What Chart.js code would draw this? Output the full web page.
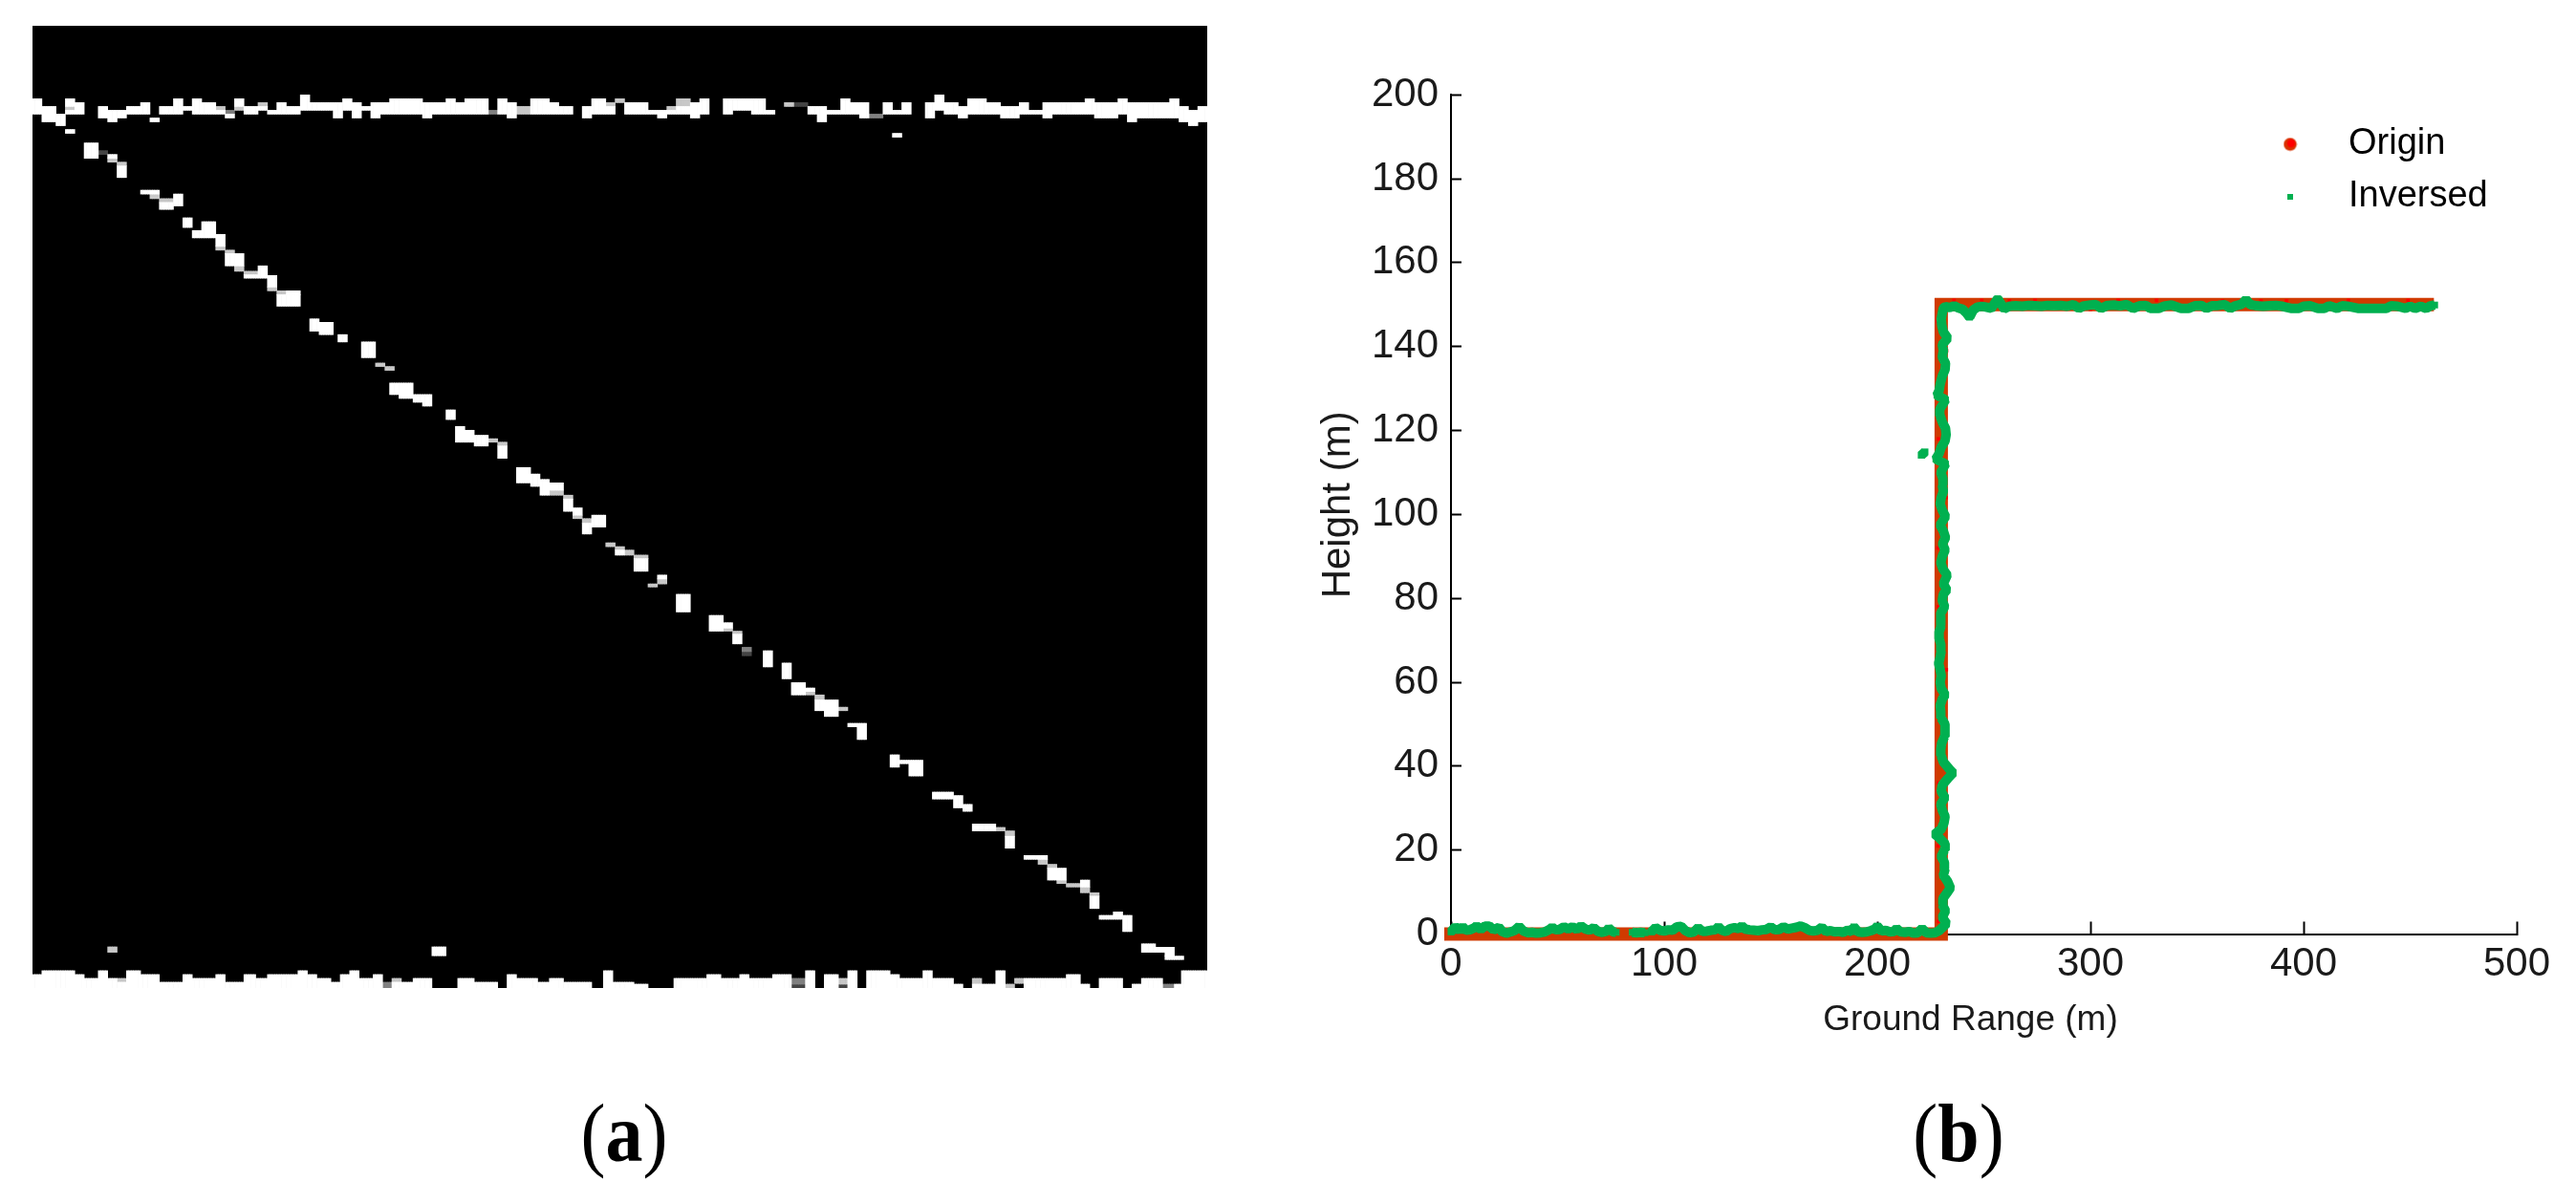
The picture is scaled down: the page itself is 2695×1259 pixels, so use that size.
<!DOCTYPE html>
<html>
<head>
<meta charset="utf-8">
<style>
html,body{margin:0;padding:0;background:#fff;width:2695px;height:1259px;overflow:hidden}
canvas{position:absolute;display:block}
.cap{position:absolute;font-family:"Liberation Serif",serif;font-size:78px;line-height:1;color:#000;transform:translate(-50%,-50%) scaleY(1.1);white-space:nowrap}
</style>
<script src="https://cdn.jsdelivr.net/npm/chart.js@4/dist/chart.umd.min.js"></script>
</head>
<body>
<canvas id="imgChart" width="1229" height="1007" style="left:34px;top:27px"></canvas>
<canvas id="plotChart" width="1355" height="1040" style="left:1340px;top:50px"></canvas>
<div class="cap" style="left:653px;top:1186px">(<b>a</b>)</div>
<div class="cap" style="left:2049px;top:1186px">(<b>b</b>)</div>
<script>
// ---------- Panel (a): binary image cells as [colStart, colEnd, rowTop, rowBottom] on a 250 x 250 grid ----------
const gridColumns = 250;
const gridRows = 250.5;

const topBandCells = [
[0,2,19,23],[2,5,21,25],[5,7,23,26],[7,9,19,21],[7,9,22,23],[9,11,20,23],[14,16,21,24],[16,18,22,25],[18,20,22,24],[20,23,21,23],[23,25,20,23],[25,27,24,25],
[27,30,21,23],[30,32,19,23],[32,34,21,22],[34,36,19,23],[36,39,20,23],[39,41,22,23],[41,43,23,24],[43,45,19,21],[45,48,21,23],[48,50,21,22],[50,52,22,23],[52,54,20,23],
[54,57,21,23],[57,59,18,22],[59,64,20,22],[64,66,20,24],[66,68,19,22],[68,70,20,24],[70,72,21,22],[72,74,20,24],[74,76,20,23],[76,83,19,23],[83,85,20,24],[85,88,20,23],
[88,90,19,23],[90,92,20,23],[92,97,19,23],[99,101,19,23],[101,103,20,24],[106,110,19,23],[110,112,20,23],[112,115,21,23],[117,119,21,24],[119,122,19,23],[122,124,21,23],
[126,131,20,23],[131,133,22,23],[133,135,22,24],[135,137,22,23],[137,140,21,23],[140,142,20,24],[142,144,19,23],[147,149,19,23],[149,153,19,22],[153,156,19,23],[156,158,22,23],
[165,167,21,23],[167,169,21,25],[169,172,22,23],[172,174,19,23],[174,176,20,23],[176,178,20,24],[181,183,20,23],[183,185,22,23],[185,187,20,23],[190,192,20,24],[192,194,18,22],
[194,197,20,23],[197,199,21,24],[199,203,19,23],[203,206,20,23],[206,210,21,24],[210,212,20,23],[212,215,22,23],[215,217,20,24],[217,224,20,23],[224,226,19,23],[226,231,20,24],
[231,233,19,23],[233,235,20,25],[235,242,20,24],[242,244,19,24],[244,246,21,25],[246,248,22,26],[248,250,21,25]
];
const diagonalCells = [
[7,9,27,28],[11,14,30.5,34.5],[16,18,33.5,34.5],[18,20,36.5,39.5],[23,27,42.8,43.8],[27,30,46,47.8],[30,32,43.8,46.9],[32,34,50,52.5],[34,36,53.3,55.2],[36,39,51,55.2],
[39,41,54.3,57.4],[41,45,59.3,62.5],[45,48,64.8,65.7],[48,50,62.5,65.7],[50,52,65,68],[52,57,70,73],[54,57,69,70],[59,61,76.3,79.5],[61,64,77.2,80.4],[65,67,80.4,82.3],[70,73,82.3,86.4],
[76,78,93,96],[78,81,93,97],[81,83,96,98],[83,85,96,99],[88,90,100,102.5],[90,92,104.3,108.4],[92,94,105.3,108.4],[94,97,106.6,109.4],[99,101,109.4,112.6],
[103,106,115,119],[106,108,116.7,119.9],[108,110,118.1,122.2],[110,113,119,120.9],[113,115,123.2,126.4],[115,117,125.5,127.4],[117,119,129.5,132.3],[119,122,127.4,130.5],
[124,126,136.5,137.8],[128,131,138.7,142],[133,135,143,144],[137,140,148,152.6],[144,147,153.5,157.6],[147,149,155.4,156.8],[149,151,158.4,160.9],[155.5,157.5,162.7,166.9],[159.5,161.5,165.9,170],
[161.5,164.5,171,174.2],[164.5,166.5,172.4,173.3],[166.5,168.5,175.5,178.3],[168.5,171.5,175.5,179.8],[173.5,175.5,181.6,182.5],[175.5,177.5,181.6,185.8],[182.5,184.5,189.8,193],[184.5,186.5,191.2,192.1],[186.5,189.5,191.2,195.3],
[191.5,196,199.5,201.3],[196,198,200.4,203.6],[198,200,202.7,204.5],[200,205,207.8,209.6],[207,209,211,214.1],[211,216,216,217],[216,218,219.3,222.4],[218,220,219.3,222.4],[223,225,222.4,224.2],[225,227,226.6,229.8],
[227,232,231.6,232.6],[230,232,230.7,231.6],[232,234,231.6,235.8],[236,239,239,241.2],[239,241,239.9,241.2],[241,243,239.9,242.2],[241,245,242.2,243.1]
];
const bottomBandCells = [
[0,2,247,250.5],[2,9,246,250.5],[9,11,247,250.5],[11,14,248,250.5],[14,16,246,250.5],[16,18,248,250.5],[18,20,249,250.5],[20,23,246,250.5],[23,27,247,250.5],[27,32,249,250.5],[32,34,247,250.5],[34,39,248,250.5],
[39,41,247,250.5],[41,45,249,250.5],[45,47.5,247,250.5],[47.5,50,248,250.5],[50,56.5,247,250.5],[56.5,58.5,246,250.5],[58.5,60.5,247,250.5],[60.5,63.5,248,250.5],[63.5,65.5,249,250.5],[65.5,67.5,247,250.5],[67.5,69.5,246,250.5],
[69.5,72.5,248,250.5],[72.5,74.5,247,250.5],[76.5,78.5,249,250.5],[78.5,81,249,250.5],[81,85,248,250.5],[90.5,94,248,250.5],[94,99,249,250.5],[101,103,247,250.5],[103,107.5,248,250.5],[107.5,110,249,250.5],[110,113,248,250.5],
[113,119,249,250.5],[121.5,123.5,246,250.5],[123.5,128,249,250.5],[128,131,249.5,250.5],[136.5,143.5,248,250.5],[143.5,146.5,247,250.5],[146.5,150.5,248,250.5],[150.5,152.5,247,250.5],[152.5,157.5,248,250.5],[157.5,161.5,247,250.5],
[164.5,166.5,246,250.5],[168.5,171.5,247,250.5],[173.5,175.5,246,250.5],[177.5,182.5,246,250.5],[182.5,184.5,247,250.5],[184.5,189.5,248,250.5],[189.5,191.5,246,250.5],[191.5,196,248,250.5],[196,198,249.5,250.5],
[200,202,249.5,250.5],[202,205,249.5,250.5],[205,207,246,250.5],[211,220,248,250.5],[220,223,247,250.5],[223,225,249.5,250.5],[227,232,248,250.5],[234,236,249.5,250.5],[236,240.5,248,250.5],[243,244.5,249.5,250.5],[244.5,250,246,250.5]
];
const speckCells = [[183,185,28,29],[85,88,239.8,242.1]];
const lightGreyCells = [
[7,9,21,22],[39,41,21,22],[43,45,21,22],[48,50,20,21],[103,106,21,23],[122,124,20,21],[124,126,19,20],[135,137,21,22],[137,140,19,21],[160,162,20,21],
[16,18,34.5,35.5],[18,20,35.5,36.5],[25,27,43.8,45],[27,30,45,46],[39,41,57.4,58.4],[41,43,58.4,59.3],[43,45,62.5,63.9],[45,48,63.9,64.8],[50,52,68,69],[52,54,69,70],[73,75,87.8,88.7],[75,77,88.7,89.7],
[97,99,107.5,108.4],[99,101,108.4,109.4],[110,113,120.9,122.2],[113,115,122.2,123.2],[115,117,127.4,128.3],[117,119,128.3,129.5],[122,124,134.6,135.6],[124,126,135.6,136.5],[126,128,136.5,137.8],[128,131,137.8,138.7],
[131,133,145.3,146.1],[133,135,144,145.3],[147,149,156.8,157.6],[149,151,157.6,158.4],[164.5,166.5,173.3,174.2],[166.5,168.5,174.2,175.5],[171.5,173.5,177.4,178.3],[205,207,208.7,209.6],[207,209,209.6,211],
[214,216,217,218.3],[216,218,218.3,219.3],[218,220,222.4,223.3],[220,223,223.3,224.2],[223,225,224.2,225.7],[225,227,225.7,226.6],
[18,20,248,249],[76.5,78.5,248,249],[171.5,173.5,248,249.5],[200,202,248,249.5],[207,209,249.5,250.5],[209,211,248,249.3],[16,18,239.8,241.2]
];
const midGreyCells = [[41,43,22,23],[97,99,22,23],[178,181,23,24],[151,153,161.8,162.9],[74.5,76.5,249,250.5],[161.5,164.5,248,249.5],[240.5,243,249.5,250.5]];
const darkGreyCells = [[162,165,20,21],[14,16,32.5,33.5],[151,153,162.9,164],[161.5,164.5,249.5,250.5],[171.5,173.5,249.5,250.5]];

// ---------- Panel (b): series ----------
const originX = [0,230,230,458];
const originY = [0,0,150,150];

const originSpeckX = [7,19,34,52,70,88,96,113,131,149,166,184,199,212,224,228.6,228.4,228.7,228.5,232.4,228.6,228.4,232.3,228.6,228.5,232.5,228.4,236,249,262,274,283,300,313,331,345,362,377,380,392,408,421,433,449];
const originSpeckY = [-1.2,-1.2,-1.3,-1.2,-1.2,-1.2,-1.2,-1.3,-1.2,-1.2,-1.2,-1.2,-1.3,-1.2,-1.2,3,21,36,52,63,78,92,104,118,131,139,146,151,151,150.9,151,149,148.9,151,151,148.9,150.9,149.1,150.9,150.9,149,151,149,151];

const inversedBottomX = [0,2,4,5.5,7,9,11,12,14,16,18,20,22.5,24,26,28,30,32,34,36,38,40,42,44,46,47.5,49,51,53,55,57,59,61,63,65,67,69,71,73,74,76,77.5,null,85,87,89,91,null,94,96,98,100,102,104,106,108,110,112,114,116,118,120,122,124,125.5,127,129,131,133,135,136.5,138,140,142,144,146,148,150,152,154,156,158,160,162,164,166,168,170,172,174,176,178,180,182,184,186,188,189,191,193,195,197,199,200,202,204,206,208,209,211,213,215,217,219,221,223,225,227,229];
const inversedBottomY = [0.5,1.7,0.9,1.7,0.9,1,1.5,1.9,1.1,1.9,1.9,1,1.6,0.6,0.2,0.5,0.9,1.8,0.7,0.3,0.4,0.2,0.3,0.5,1,1.6,1,1.1,1.7,1.2,1.7,1.1,1.9,1.2,0.9,1.5,0.6,0.4,0.7,1.4,0.5,0.4,null,0.4,0.3,0.4,0.3,null,0.5,1.5,0.9,0.7,1,0.9,1.7,1.8,0.8,0.3,0.5,1.5,0.6,0.7,0.9,1,1.7,0.9,0.6,1.3,1.5,1.3,1.9,1.2,1,0.9,0.8,1,1.1,1.7,1,1.1,1.7,1.2,1.4,1.6,1.9,1.5,0.9,0.7,0.9,1.6,0.6,0.8,0.5,0.6,0.4,0.9,0.6,1.7,0.5,0.4,0.5,0.8,1.2,1.9,0.7,0.9,0.5,0.6,1.3,0.5,0.4,0.6,0.2,0.3,1.3,0.3,0.2,0.3,0.8];

const inversedRiseX = [230.5,232.5,230.5,232,230.5,230.8,233,234.3,233,231,231.8,231.5,230,231.5,231.8,229,227,230,231.3,231.8,230.5,229.8,231.7,230,230.5,233,235.5,233.5,231,230,229.8,230.2,231.5,231.8,231.7,230,229.8,229.5,230.5,231.8,230,229.5,230,229.5,228.8,229.5,230,229.8,229,229,230,229.6,230,231.6,230.5,231,232.6,231,232.8,230.8,229.8,230.5,231.8,230.6,232,231,229.5,232,230.5,229.5,230,231,230.5,230.8,229.8,232,227.5,229,230,231.8,232.3,232,230.5,229.5,229.3,232,228,229,229.5,230.5,231.8,232,230.5,231,230.5,233,231,230.3,230,230.5,231];
const inversedRiseY = [1.5,2.5,4,5.5,7,8.5,10,11,12.5,14,15.5,17,18.5,20,21.5,23,23.8,25,26.5,28,29.5,31,32.5,34,35.5,37,38.4,39.5,41,42.5,44,45.5,47,48.5,50,51.5,53,54.5,56,57,58.5,60,61.5,63,64.5,66,67.5,69,70.5,72,73.5,75,76.5,78,79.5,81,82,83.5,85.5,87,88.5,90,91.5,93,94.5,96,97.5,99.5,101,102.5,104,105.5,107,108.5,110,112,113.2,114.5,116,117.5,119,120.5,122,123.5,125,127.3,128.4,129.5,131,133,134.5,136,137.5,139,140.5,142,143.5,145,146.5,148,149.2];

const inversedTopX = [232,234,236,238,240,242,243.3,245,247,249,251,253.5,256.5,258,259.5,262,265,268,271,274,277,280,283,286,289,292,294.6,297,300,302.5,305,308,311,314,317,320,323,326,328,332,335,338,342.5,346,349,352,354.4,357,360,363,365.6,368,371,373,375,378,381,384,387,390,394,397.8,400,403,406.7,409.7,412,415.7,418,421,425.4,429,432,435.8,438.8,441,444,447.8,450,452.3,455,457.5,459.5,461.5,null,220.6,222.4];
const inversedTopY = [149.5,149.3,149.7,149.2,148.9,147.9,147,148.7,149.4,149.6,149.4,149.1,151.4,150.2,149,149.6,149.7,149.6,149.8,149.7,149.6,149.8,149.7,149.8,149.6,150,149.1,149.7,149.9,150,149.1,149.8,149.9,149.7,150,149.1,149.7,149.8,149.1,149.1,149.7,149.9,149.1,149.1,149.7,149.8,149.1,149.7,149.8,150,149.1,149.7,150.1,151.2,150,149.7,149.6,149.7,149.8,149.6,149.1,149.1,149.6,149.7,149.1,149.1,149.7,149.1,149.7,149.6,149.1,149.1,149.1,149.1,149.1,149.7,149.6,149.1,149.6,149.1,149.6,149.1,149.7,149.9,null,114.1,114.9];

// ---------- Axis ticks and labels ----------
const xAxisMax = 500, xTickStep = 100;
const yAxisMax = 200, yTickStep = 20;
const xAxisTitle = 'Ground Range (m)';
const yAxisTitle = 'Height (m)';
const legendLabels = ['Origin', 'Inversed'];

// ---------- Panel (a) chart ----------
function slot(v){ return Math.round(v * 2); }
function layersOf(cells){
  const layers = [];
  cells.forEach(([c0, c1, r0, r1]) => {
    let layer = layers.find(l => { for (let s = slot(c0); s < slot(c1); s++) if (l[s]) return false; return true; });
    if (!layer) { layer = new Array(gridColumns * 2).fill(null); layers.push(layer); }
    for (let s = slot(c0); s < slot(c1); s++) layer[s] = [r0, r1];
  });
  return layers;
}
function cellDatasets(cells, color){
  return layersOf(cells).map(data => ({ data, backgroundColor: color, borderWidth: 0, inflateAmount: 0.35, barPercentage: 1, categoryPercentage: 1, grouped: false }));
}
const slotLabels = Array.from({length: gridColumns * 2}, (_, i) => String(i));

const blackBackground = {
  id: 'blackBackground',
  beforeDatasetsDraw(chart){
    const {ctx, chartArea: a} = chart;
    ctx.save(); ctx.fillStyle = '#000'; ctx.fillRect(a.left, a.top, a.right - a.left, a.bottom - a.top); ctx.restore();
  }
};

new Chart(document.getElementById('imgChart'), {
  type: 'bar',
  data: {
    labels: slotLabels,
    datasets: [
      ...cellDatasets([...topBandCells, ...diagonalCells, ...bottomBandCells, ...speckCells], '#ffffff'),
      ...cellDatasets(lightGreyCells, '#c8c8c8'),
      ...cellDatasets(midGreyCells, '#808080'),
      ...cellDatasets(darkGreyCells, '#444444')
    ]
  },
  options: {
    responsive: false, animation: false, devicePixelRatio: 1,
    layout: {padding: 0},
    plugins: {legend: {display: false}, tooltip: {enabled: false}},
    scales: {
      x: {display: false, type: 'category', offset: true},
      y: {display: false, type: 'linear', min: 0, max: gridRows, reverse: true}
    }
  },
  plugins: [blackBackground]
});

// ---------- Panel (b) chart ----------
function zip(xs, ys){ return xs.map((x, i) => ({x, y: ys[i]})); }
const inversedData = [
  ...zip(inversedBottomX, inversedBottomY),
  ...zip(inversedRiseX, inversedRiseY),
  ...zip(inversedTopX, inversedTopY)
];
function markerCanvas(size, draw){
  const c = document.createElement('canvas'); c.width = size; c.height = size;
  draw(c.getContext('2d'), size); return c;
}
const redMarker = markerCanvas(15, (g, s) => { g.fillStyle = '#d83200'; g.beginPath(); g.arc(s/2, s/2, 6.8, 0, 7); g.fill(); g.fillStyle = '#ff0000'; g.beginPath(); g.arc(s/2+1, s/2-1, 4.2, 0, 7); g.fill(); });
const greenMarker = markerCanvas(6, (g, s) => { g.fillStyle = '#00b050'; g.fillRect(0, 0, s, s); });

const shiftTitle = (dx, dy) => scale => {
  if (scale._titleShifted) return;
  scale._titleShifted = true;
  const base = Object.getPrototypeOf(scale).drawTitle;
  scale.drawTitle = function(){ const c = this.ctx; c.save(); c.translate(dx, dy); base.call(this); c.restore(); };
};
const placeLegend = {
  id: 'placeLegend',
  afterLayout(chart){
    const l = chart.legend;
    l.left = 997; l.right = 1340; l.top = 65; l.bottom = 400;
  }
};
const font = size => ({family: '"Liberation Sans"', size});

new Chart(document.getElementById('plotChart'), {
  type: 'scatter',
  data: {
    datasets: [
      {label: legendLabels[1], data: inversedData, order: 0, showLine: true, spanGaps: false, clip: false,
       borderColor: '#00b050', borderWidth: 10, borderJoinStyle: 'bevel', backgroundColor: '#00b050',
       pointStyle: 'rect', pointRadius: 5, pointBorderWidth: 0},
      {label: 'Origin detail', data: zip(originSpeckX, originSpeckY), order: 1, showLine: false, clip: false,
       backgroundColor: '#ff0000', pointStyle: 'rect', pointRadius: 2.6, pointBorderWidth: 0},
      {label: legendLabels[0], data: zip(originX, originY), order: 2, showLine: true, clip: false,
       borderColor: '#d03a00', borderWidth: 14, borderCapStyle: 'square', borderJoinStyle: 'miter', pointRadius: 0}
    ]
  },
  options: {
    responsive: false, animation: false, devicePixelRatio: 1,
    layout: {padding: {top: 37, right: 62, bottom: 0, left: 0}},
    plugins: {
      tooltip: {enabled: false},
      legend: {
        position: 'chartArea', align: 'start',
        labels: {
          font: font(38), color: '#111', padding: 17, usePointStyle: true, pointStyleWidth: 84,
          generateLabels: () => [
            {text: legendLabels[0], pointStyle: redMarker, fillStyle: '#f00', strokeStyle: '#f00', lineWidth: 0, hidden: false, datasetIndex: 2},
            {text: legendLabels[1], pointStyle: greenMarker, fillStyle: '#0b5', strokeStyle: '#0b5', lineWidth: 0, hidden: false, datasetIndex: 0}
          ]
        }
      }
    },
    scales: {
      x: {
        type: 'linear', position: 'bottom', min: 0, max: xAxisMax,
        ticks: {stepSize: xTickStep, font: font(42), color: '#1a1a1a', padding: 20, maxRotation: 0, autoSkip: false},
        grid: {drawOnChartArea: false, drawTicks: true, tickLength: -13, tickWidth: 2, tickColor: '#000'},
        border: {color: '#000', width: 2},
        title: {display: true, text: xAxisTitle, font: font(37), color: '#1a1a1a', padding: {top: 14, bottom: 0}},
        afterFit: s => { s.height = 112.5; shiftTitle(-14, 0)(s); }
      },
      y: {
        type: 'linear', position: 'left', min: 0, max: yAxisMax,
        ticks: {stepSize: yTickStep, font: font(42), color: '#1a1a1a', padding: 24, autoSkip: false},
        grid: {drawOnChartArea: false, drawTicks: true, tickLength: -11, tickWidth: 2, tickColor: '#000'},
        border: {color: '#000', width: 2},
        title: {display: true, text: yAxisTitle, font: font(42), color: '#1a1a1a', padding: {top: 35, bottom: 0}},
        afterFit: s => { s.width = 178; shiftTitle(0, -10)(s); }
      }
    }
  },
  plugins: [placeLegend]
});
</script>
</body>
</html>
